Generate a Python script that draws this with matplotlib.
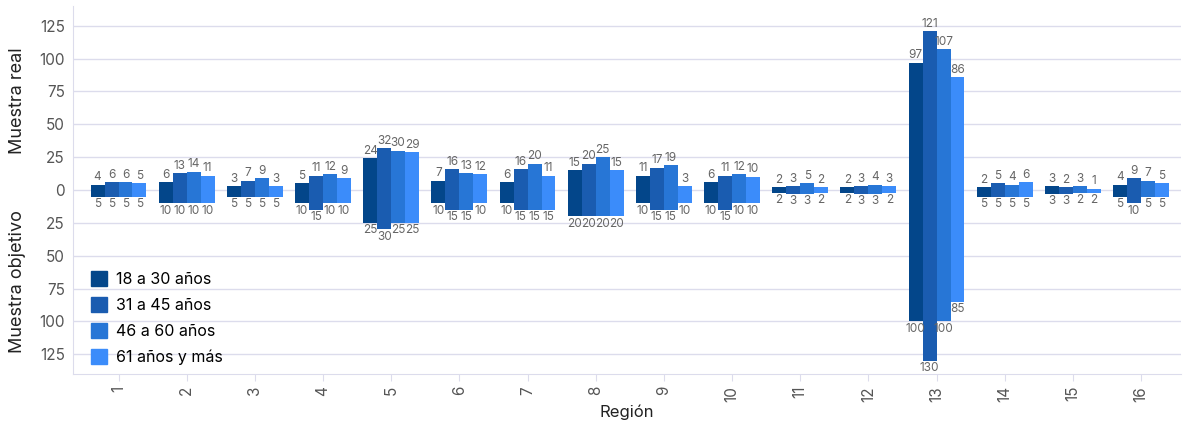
import matplotlib.pyplot as plt
import numpy as np
from matplotlib.ticker import FuncFormatter, MultipleLocator
from matplotlib.patches import Patch

plt.rcParams['font.family'] = ['Inter', 'DejaVu Sans']

regiones = [str(i) for i in range(1, 17)]
grupos = ['18 a 30 años', '31 a 45 años', '46 a 60 años', '61 años y más']
colores = ['#03468a', '#1a5cb0', '#2776d6', '#3b8cfa']

# muestra real (arriba)
real_18_30 = [4, 6, 3, 5, 24, 7, 6, 15, 11, 6, 2, 2, 97, 2, 3, 4]
real_31_45 = [6, 13, 7, 11, 32, 16, 16, 20, 17, 11, 3, 3, 121, 5, 2, 9]
real_46_60 = [6, 14, 9, 12, 30, 13, 20, 25, 19, 12, 5, 4, 107, 4, 3, 7]
real_61 = [5, 11, 3, 9, 29, 12, 11, 15, 3, 10, 2, 3, 86, 6, 1, 5]

# muestra objetivo (abajo)
obj_18_30 = [5, 10, 5, 10, 25, 10, 10, 20, 10, 10, 2, 2, 100, 5, 3, 5]
obj_31_45 = [5, 10, 5, 15, 30, 15, 15, 20, 15, 15, 3, 3, 130, 5, 3, 10]
obj_46_60 = [5, 10, 5, 10, 25, 15, 15, 20, 15, 10, 3, 3, 100, 5, 2, 5]
obj_61 = [5, 10, 5, 10, 25, 10, 15, 20, 10, 10, 2, 2, 85, 5, 2, 5]

real = [real_18_30, real_31_45, real_46_60, real_61]
objetivo = [obj_18_30, obj_31_45, obj_46_60, obj_61]

fig = plt.figure(figsize=(11.84, 4.28), dpi=100)
ax = fig.add_axes([0.0617, 0.126, 0.936, 0.86])

x = np.arange(1, len(regiones) + 1)
width = 0.205
label_color = '#666666'

for i in range(4):
    pos = x + (i - 1.5) * width
    up = ax.bar(pos, real[i], width, color=colores[i], label=grupos[i])
    down = ax.bar(pos, [-v for v in objetivo[i]], width, color=colores[i])
    ax.bar_label(up, labels=[str(v) for v in real[i]], padding=1, fontsize=8.5, color=label_color)
    ax.bar_label(down, labels=[str(v) for v in objetivo[i]], padding=1, fontsize=8.5, color=label_color)

ax.set_xlim(0.333, 16.59)
ax.set_ylim(-140, 140)
ax.yaxis.set_major_locator(MultipleLocator(25))
ax.yaxis.set_major_formatter(FuncFormatter(lambda v, p: '%d' % abs(v)))
ax.set_xticks(x, regiones, rotation=90)
ax.grid(axis='y', color='#dcdcec', linewidth=1)
ax.set_axisbelow(True)

for s in ['top', 'right']:
    ax.spines[s].set_visible(False)
for s in ['left', 'bottom']:
    ax.spines[s].set_color('#dcdcec')
ax.tick_params(axis='y', length=0, labelsize=11, labelcolor='#555555', pad=6)
ax.tick_params(axis='x', length=5, color='#dcdcec', labelsize=11, labelcolor='#555555')

ax.set_xlabel('Región', fontsize=12, color='#222222', labelpad=2)
fig.text(0.015, 0.765, 'Muestra real', rotation=90, ha='center', va='center', fontsize=13, color='#222222')
fig.text(0.015, 0.343, 'Muestra objetivo', rotation=90, ha='center', va='center', fontsize=13, color='#222222')

handles = [Patch(color=c) for c in colores]
ax.legend(handles, grupos, loc='lower left', bbox_to_anchor=(0.003, -0.014), frameon=False,
          fontsize=11.5, handlelength=1.0, handleheight=1.0, labelspacing=0.65, handletextpad=0.6)

plt.savefig('out.png', dpi=100)
